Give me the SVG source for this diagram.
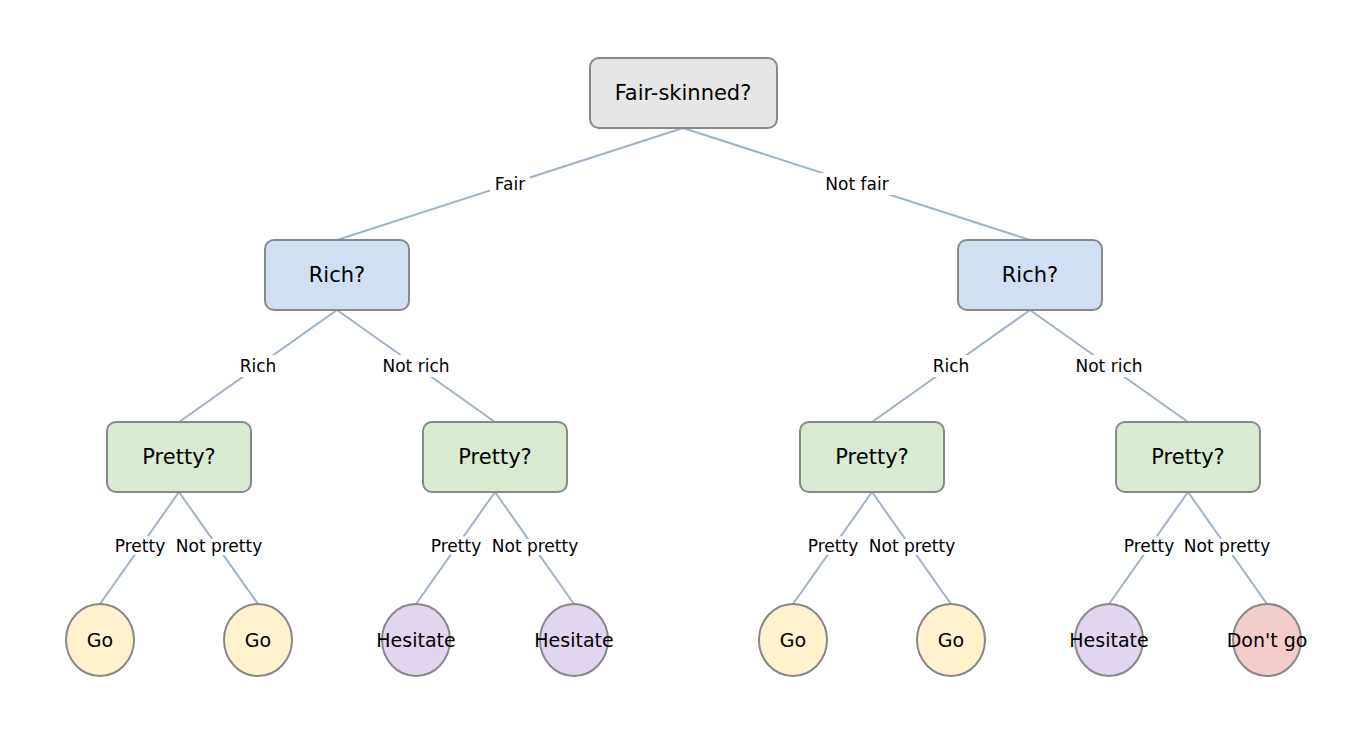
<svg xmlns="http://www.w3.org/2000/svg" width="1366" height="746" viewBox="0 0 1366 746">
<style>
.n{stroke:#888;stroke-width:2}
.t{font-family:"DejaVu Sans",sans-serif;font-size:21px;text-anchor:middle;dominant-baseline:central;fill:#000}
.l{font-family:"DejaVu Sans",sans-serif;font-size:17px;text-anchor:middle;dominant-baseline:central;fill:#000}
.lt{font-size:19px}
.e{stroke:#9fb3c8;stroke-width:2;fill:none}
.bg{fill:#fff}
</style>
<rect width="1366" height="746" fill="#fff"/>
<g id="connectors">
<path class="e" d="M683 128L337 240M683 128L1030 240M337 310L179 422M337 310L495 422M1030 310L872 422M1030 310L1188 422M179 492L100 604M179 492L258 604M495 492L416 604M495 492L574 604M872 492L793 604M872 492L951 604M1188 492L1109 604M1188 492L1267 604"/>
<rect class="bg" x="490" y="173" width="40" height="22"/><text class="l" x="510" y="184">Fair</text>
<rect class="bg" x="820" y="173" width="74" height="22"/><text class="l" x="857" y="184">Not fair</text>
<rect class="bg" x="236" y="355" width="44" height="22"/><text class="l" x="258" y="366">Rich</text>
<rect class="bg" x="377" y="355" width="78" height="22"/><text class="l" x="416" y="366">Not rich</text>
<rect class="bg" x="929" y="355" width="44" height="22"/><text class="l" x="951" y="366">Rich</text>
<rect class="bg" x="1070" y="355" width="78" height="22"/><text class="l" x="1109" y="366">Not rich</text>
<text class="l" x="140" y="546" stroke="#fff" stroke-width="6" paint-order="stroke">Pretty</text>
<text class="l" x="219" y="546" stroke="#fff" stroke-width="6" paint-order="stroke">Not pretty</text>
<text class="l" x="456" y="546" stroke="#fff" stroke-width="6" paint-order="stroke">Pretty</text>
<text class="l" x="535" y="546" stroke="#fff" stroke-width="6" paint-order="stroke">Not pretty</text>
<text class="l" x="833" y="546" stroke="#fff" stroke-width="6" paint-order="stroke">Pretty</text>
<text class="l" x="912" y="546" stroke="#fff" stroke-width="6" paint-order="stroke">Not pretty</text>
<text class="l" x="1149" y="546" stroke="#fff" stroke-width="6" paint-order="stroke">Pretty</text>
<text class="l" x="1227" y="546" stroke="#fff" stroke-width="6" paint-order="stroke">Not pretty</text>
</g>
<g id="root"><rect class="n" x="590" y="58" width="187" height="70" rx="9" fill="#e6e6e6"/><text class="t" x="683" y="93">Fair-skinned?</text></g>
<g id="rich1"><rect class="n" x="265" y="240" width="144" height="70" rx="9" fill="#d0e0f2"/><text class="t" x="337" y="275">Rich?</text></g>
<g id="rich2"><rect class="n" x="958" y="240" width="144" height="70" rx="9" fill="#d0e0f2"/><text class="t" x="1030" y="275">Rich?</text></g>
<g id="pretty1"><rect class="n" x="107" y="422" width="144" height="70" rx="9" fill="#d9ead3"/><text class="t" x="179" y="457">Pretty?</text></g>
<g id="pretty2"><rect class="n" x="423" y="422" width="144" height="70" rx="9" fill="#d9ead3"/><text class="t" x="495" y="457">Pretty?</text></g>
<g id="pretty3"><rect class="n" x="800" y="422" width="144" height="70" rx="9" fill="#d9ead3"/><text class="t" x="872" y="457">Pretty?</text></g>
<g id="pretty4"><rect class="n" x="1116" y="422" width="144" height="70" rx="9" fill="#d9ead3"/><text class="t" x="1188" y="457">Pretty?</text></g>
<g id="leaf1"><ellipse class="n" cx="100" cy="640" rx="34" ry="36" fill="#fff2cc"/><text class="t lt" x="100" y="640">Go</text></g>
<g id="leaf2"><ellipse class="n" cx="258" cy="640" rx="34" ry="36" fill="#fff2cc"/><text class="t lt" x="258" y="640">Go</text></g>
<g id="leaf3"><ellipse class="n" cx="416" cy="640" rx="34" ry="36" fill="#e2d5f0"/><text class="t lt" x="416" y="640">Hesitate</text></g>
<g id="leaf4"><ellipse class="n" cx="574" cy="640" rx="34" ry="36" fill="#e2d5f0"/><text class="t lt" x="574" y="640">Hesitate</text></g>
<g id="leaf5"><ellipse class="n" cx="793" cy="640" rx="34" ry="36" fill="#fff2cc"/><text class="t lt" x="793" y="640">Go</text></g>
<g id="leaf6"><ellipse class="n" cx="951" cy="640" rx="34" ry="36" fill="#fff2cc"/><text class="t lt" x="951" y="640">Go</text></g>
<g id="leaf7"><ellipse class="n" cx="1109" cy="640" rx="34" ry="36" fill="#e2d5f0"/><text class="t lt" x="1109" y="640">Hesitate</text></g>
<g id="leaf8"><ellipse class="n" cx="1267" cy="640" rx="34" ry="36" fill="#f3cccc"/><text class="t lt" x="1267" y="640">Don't go</text></g>
</svg>
